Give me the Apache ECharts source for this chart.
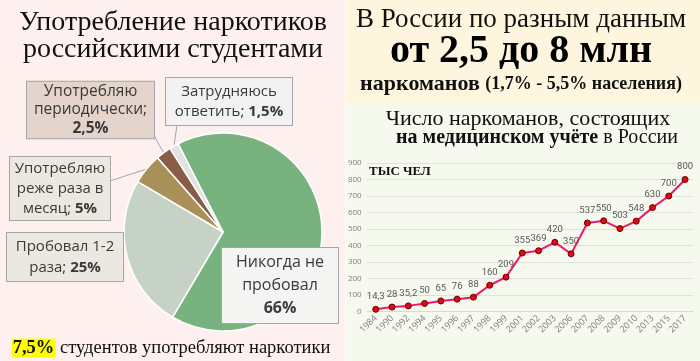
<!DOCTYPE html>
<html><head><meta charset="utf-8">
<script src="https://cdn.jsdelivr.net/npm/echarts@6/dist/echarts.min.js"></script>
<style>html,body{margin:0;padding:0;background:#fff}#c{width:700px;height:361px}</style>
</head><body><div id="c"></div>
<script>
// ---- data ----
const pieNames = ['Никогда не пробовал', 'Пробовал 1-2 раза', 'Употребляю реже раза в месяц', 'Употребляю периодически', 'Затрудняюсь ответить'];
const pieValues = [66, 25, 5, 2.5, 1.5];
const pieColors = ['#77b27f', '#c6d2c5', '#a99059', '#8a5c48', '#e2e2e0'];
const years = ['1984','1990','1992','1994','1995','1996','1997','1998','1999','2001','2002','2003','2006','2007','2008','2009','2010','2013','2015','2017'];
const counts = [14.3, 28, 35.2, 50, 65, 76, 88, 160, 209, 355, 369, 420, 350, 537, 550, 503, 548, 630, 700, 800];
const yMin = 0, yMax = 900, yInterval = 100;

const fmt = v => String(v).replace('.', ',');
const SANS = '"Open Sans", "Noto Sans", sans-serif';
const NARROW = 'Roboto, sans-serif';
const SERIF = '"Liberation Serif", "DejaVu Serif", serif';

const pieTexts = [
  '{n|Никогда не}\n{n|пробовал}\n{b|' + fmt(pieValues[0]) + '%}',
  '{n|Пробовал 1-2}\n{n|раза; }{b|' + fmt(pieValues[1]) + '%}',
  '{n|Употребляю}\n{n|реже раза в}\n{n|месяц; }{b|' + fmt(pieValues[2]) + '%}',
  '{n|Употребляю}\n{n|периодически;}\n{b|' + fmt(pieValues[3]) + '%}',
  '{n|Затрудняюсь}\n{n|ответить; }{b|' + fmt(pieValues[4]) + '%}'
];
const boxStyle = [
  {w: 116, lh: 23, pv: 3, fs: 16, bg: '#f4f4f2', x: 280, y: 285.5, line: false},
  {w: 116, lh: 21, pv: 3, fs: 15, bg: '#eae8e0', x: 65, y: 257, line: false},
  {w: 100, lh: 20, pv: 1.5, fs: 15, bg: '#ebe8df', x: 60, y: 188.5, line: [[147,169],[128,175],[110,181]]},
  {w: 127, lh: 18.5, pv: 0.5, fs: 15.5, bg: '#e5d4cc', x: 90.5, y: 110, line: [[164,153],[158,143],[154,135]]},
  {w: 126, lh: 20, pv: 3.5, fs: 15, bg: '#f2f2f2', x: 229, y: 101.5, line: [[174,146],[175.5,135],[177,125]]}
];

const pieData = pieNames.map((name, i) => {
  const s = boxStyle[i];
  return {
    name: name,
    value: pieValues[i],
    itemStyle: {color: pieColors[i]},
    label: {
      formatter: pieTexts[i],
      width: s.w,
      padding: [s.pv, 0],
      backgroundColor: s.bg,
      borderColor: '#a6a6a6',
      borderWidth: 1,
      align: 'center',
      rich: {
        n: {fontFamily: SANS, fontSize: s.fs, color: '#3a3a3a', lineHeight: s.lh},
        b: {fontFamily: SANS, fontSize: s.fs, fontWeight: 'bold', color: '#3a3a3a', lineHeight: s.lh}
      }
    },
    labelLine: {show: !!s.line}
  };
});

const chart = echarts.init(document.getElementById('c'), null, {renderer: 'canvas'});
chart.setOption({
  animation: false,
  backgroundColor: '#ffffff',
  graphic: [
    {type: 'rect', z: -10, shape: {x: 0, y: 0, width: 345, height: 361}, style: {fill: '#fdf0ee'}},
    {type: 'rect', z: -10, shape: {x: 346, y: 0, width: 354, height: 103}, style: {fill: '#fdf5dd'}},
    {type: 'rect', z: -10, shape: {x: 346, y: 103, width: 354, height: 258}, style: {fill: '#f6f9ee'}},
    {type: 'text', x: 173, y: 23, style: {text: 'Употребление наркотиков', font: '28px ' + SERIF, fill: '#111', align: 'center', verticalAlign: 'middle'}},
    {type: 'text', x: 173, y: 50, style: {text: 'российскими студентами', font: '28px ' + SERIF, fill: '#111', align: 'center', verticalAlign: 'middle'}},
    {type: 'text', x: 521, y: 20, style: {text: 'В России по разным данным', font: '27px ' + SERIF, fill: '#111', align: 'center', verticalAlign: 'middle'}},
    {type: 'text', x: 521, y: 52, style: {text: 'от 2,5 до 8 млн', font: 'bold 40px ' + SERIF, fill: '#000', align: 'center', verticalAlign: 'middle'}},
    {type: 'text', x: 521, y: 84, style: {
      text: '{a|наркоманов }{c|(1,7% - 5,5% населения)}', align: 'center', verticalAlign: 'middle',
      rich: {a: {font: 'bold 22px ' + SERIF, fill: '#111'}, c: {font: 'bold 18px ' + SERIF, fill: '#111'}}
    }},
    {type: 'text', x: 528, y: 119, style: {text: 'Число наркоманов, состоящих', font: '22px ' + SERIF, fill: '#111', align: 'center', verticalAlign: 'middle'}},
    {type: 'text', x: 537, y: 138, style: {
      text: '{a|на медицинском учёте}{c| в России}', align: 'center', verticalAlign: 'middle',
      rich: {a: {font: 'bold 20px ' + SERIF, fill: '#111'}, c: {font: '20px ' + SERIF, fill: '#111'}}
    }},
    {type: 'text', x: 369, y: 172, style: {text: 'ТЫС ЧЕЛ', font: 'bold 13px ' + SERIF, fill: '#111', align: 'left', verticalAlign: 'middle'}},
    {type: 'text', x: 171, y: 348, style: {
      text: '{y|7,5%}{c| студентов употребляют наркотики}', align: 'center', verticalAlign: 'middle',
      rich: {y: {font: 'bold 18.5px ' + SERIF, fill: '#111', backgroundColor: '#ffff00', padding: [0, 1]}, c: {font: '18.5px ' + SERIF, fill: '#111'}}
    }}
  ],
  grid: {left: 367.6, right: 6.8, top: 163, bottom: 49.3},
  xAxis: {
    type: 'category', data: years, boundaryGap: true,
    axisLine: {lineStyle: {color: '#d9d9d9'}},
    axisTick: {show: false},
    axisLabel: {rotate: 45, fontSize: 9, color: '#7f7f7f', fontFamily: SANS, margin: 5, interval: 0}
  },
  yAxis: {
    type: 'value', min: yMin, max: yMax, interval: yInterval,
    axisLine: {show: false}, axisTick: {show: false},
    axisLabel: {fontSize: 8, color: '#808080', fontFamily: SANS, margin: 6},
    splitLine: {lineStyle: {color: '#e0e0e0'}}
  },
  series: [
    {
      type: 'pie', center: [223, 232], radius: 99, startAngle: 117, clockwise: true,
      avoidLabelOverlap: false, silent: true,
      itemStyle: {borderColor: '#ffffff', borderWidth: 1.5},
      label: {show: true, position: 'outside'},
      labelLine: {lineStyle: {color: '#a6a6a6', width: 1}, length: 10, length2: 10},
      labelLayout: function (params) {
        const s = boxStyle[params.dataIndex];
        const r = {x: s.x, y: s.y, align: 'center', verticalAlign: 'middle'};
        if (s.line) r.labelLinePoints = s.line;
        return r;
      },
      data: pieData
    },
    {
      type: 'line', data: counts, symbol: 'circle', symbolSize: 6,
      lineStyle: {color: '#f0166a', width: 2},
      itemStyle: {color: '#e00a14', borderColor: '#6b0000', borderWidth: 1},
      label: {show: true, position: 'top', distance: 4, color: '#595959', fontSize: 9.5, fontFamily: NARROW,
        formatter: p => fmt(p.value)}
    }
  ]
});
</script></body></html>
